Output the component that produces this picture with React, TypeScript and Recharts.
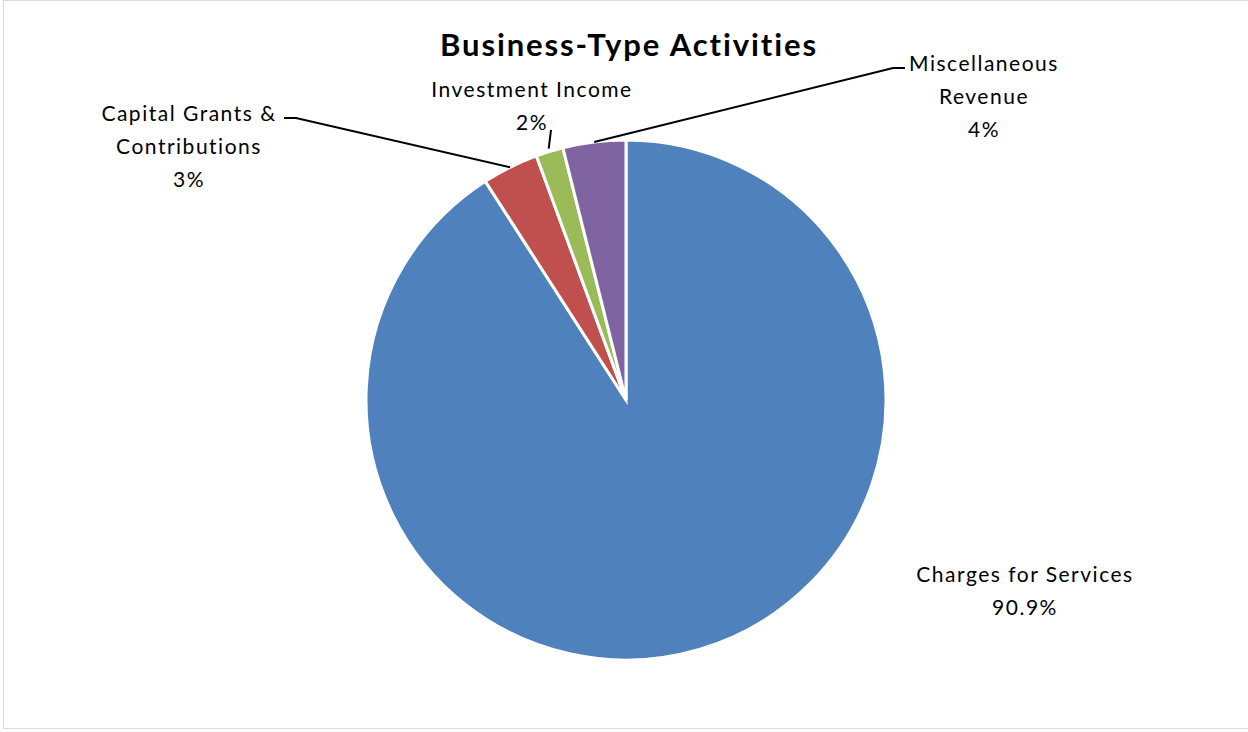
import { PieChart, Pie, Cell } from 'recharts';

const categories = ['Charges for Services', 'Capital Grants & Contributions', 'Investment Income', 'Miscellaneous Revenue'];
const values = [90.9, 3.5, 1.7, 3.9];
const pctLabels = ['90.9%', '3%', '2%', '4%'];
const colors = ['#4F81BD', '#C0504D', '#9BBB59', '#8064A2'];

// label text lines, anchor (centre of first line) and leader line bend
const labelLines = [
    ['Charges for Services'],
    ['Capital Grants &', 'Contributions'],
    ['Investment Income'],
    ['Miscellaneous', 'Revenue'],
];
const labelPos = [
    { x: 1025, y: 573, bend: null as null | number[] },
    { x: 189, y: 112, bend: [296, 118, 284, 118] },
    { x: 532, y: 88, bend: [551, 130, 551, 130] },
    { x: 984, y: 62, bend: [893, 68, 905, 68] },
];

const data = categories.map((name, i) => ({ name, value: values[i] }));

const RAD = Math.PI / 180;
const LINE_H = 33;
const FONT = 'Lato, "Liberation Sans", sans-serif';

const renderLabel = (props: any) => {
    const { cx, cy, midAngle, outerRadius, index } = props;
    const pos = labelPos[index];
    const lines = [...labelLines[index], pctLabels[index]];
    const r = outerRadius + (index === 2 ? 3 : 0);
    const sx = cx + r * Math.cos(-midAngle * RAD);
    const sy = cy + r * Math.sin(-midAngle * RAD);
    return (
        <g>
            {pos.bend && (
                <polyline
                    points={`${sx},${sy} ${pos.bend[0]},${pos.bend[1]} ${pos.bend[2]},${pos.bend[3]}`}
                    fill="none"
                    stroke="#000"
                    strokeWidth={2}
                />
            )}
            {lines.map((t, k) => (
                <text
                    key={k}
                    x={pos.x}
                    y={pos.y + k * LINE_H}
                    textAnchor="middle"
                    dominantBaseline="central"
                    fontFamily={FONT}
                    fontSize={21}
                    fill="#000"
                    style={{ letterSpacing: '1.5px' }}
                >
                    {t}
                </text>
            ))}
        </g>
    );
};

export default function App() {
    return (
        <div style={{ position: 'absolute', left: 0, top: 0, width: 1248, height: 732, background: '#fff' }}>
            <div
                style={{
                    position: 'absolute',
                    left: 3,
                    top: 0,
                    width: 1250,
                    height: 729,
                    border: '1px solid #d9d9d9',
                    boxSizing: 'border-box',
                }}
            />
            <div
                style={{
                    position: 'absolute',
                    left: 0,
                    top: 21,
                    width: 1258,
                    textAlign: 'center',
                    fontFamily: FONT,
                    fontWeight: 700,
                    fontSize: 31,
                    letterSpacing: '1.9px',
                    lineHeight: '46px',
                    color: '#000',
                }}
            >
                Business-Type Activities
            </div>
            <PieChart
                width={1248}
                height={732}
                margin={{ top: 0, right: 0, bottom: 0, left: 0 }}
                style={{ position: 'absolute', left: 0, top: 0 }}
            >
                <Pie
                    data={data}
                    dataKey="value"
                    nameKey="name"
                    cx={626}
                    cy={400}
                    outerRadius={260}
                    startAngle={90}
                    endAngle={-270}
                    stroke="#fff"
                    strokeWidth={3}
                    label={renderLabel}
                    labelLine={false}
                    isAnimationActive={false}
                >
                    {data.map((d, i) => (
                        <Cell key={d.name} fill={colors[i]} />
                    ))}
                </Pie>
            </PieChart>
        </div>
    );
}
